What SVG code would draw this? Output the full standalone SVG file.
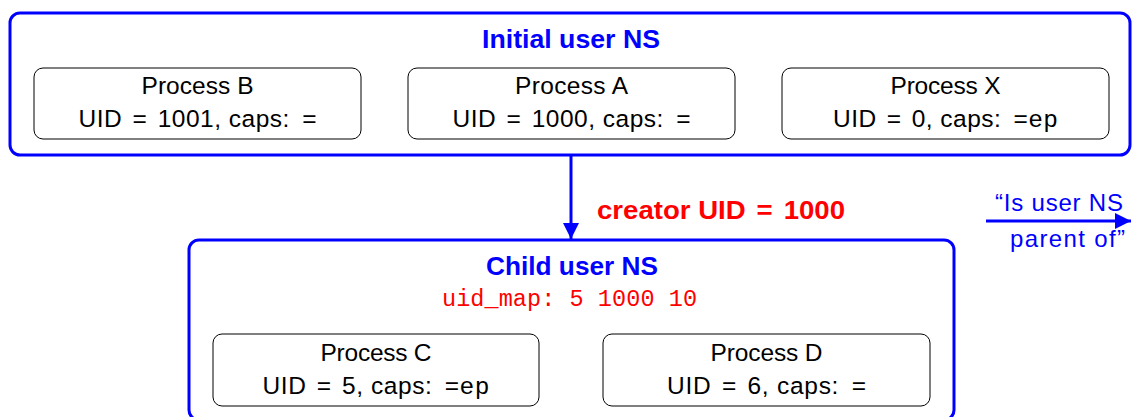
<svg xmlns="http://www.w3.org/2000/svg" width="1133" height="417" viewBox="0 0 1133 417">
<style>
.ns{fill:none;stroke:#0000ff;stroke-width:3}
.proc{fill:#ffffff;stroke:#000000;stroke-width:1}
.t{font-family:"Liberation Sans",Arial,sans-serif;font-size:24.5px;fill:#000000;text-anchor:middle}
.mono{font-family:"Liberation Mono","Courier New",monospace}
.title{font-family:"Liberation Sans",Arial,sans-serif;font-size:25px;font-weight:bold;fill:#0000ff;text-anchor:middle}
.red{font-family:"Liberation Sans",Arial,sans-serif;font-size:25px;font-weight:bold;fill:#ff0000}
.map{font-family:"Liberation Mono","Courier New",monospace;font-size:23.5px;fill:#ff0000}
.blue{font-family:"Liberation Sans",Arial,sans-serif;font-size:24px;fill:#0000ff}
.conn{stroke:#0000ff;stroke-width:3;fill:none}
</style>
<defs>
<marker id="arr" viewBox="0 0 10 10" refX="10" refY="5" markerWidth="5.5" markerHeight="5.5" markerUnits="strokeWidth" orient="auto">
<path d="M0,0 L10,5 L0,10 Z" fill="#0000ff"/>
</marker>
</defs>

<g id="initial-ns">
<rect class="ns" x="10" y="13" width="1120" height="142" rx="10"/>
<text class="title" x="571" y="48" textLength="178" lengthAdjust="spacingAndGlyphs">Initial user NS</text>
</g>

<g id="process-b">
<rect class="proc" x="34" y="68" width="327" height="71" rx="9"/>
<text class="t" x="197.5" y="94" textLength="112">Process B</text>
<text class="t" x="197.5" y="127" textLength="238">UID <tspan dx="3">=</tspan><tspan dx="3"> 1001, caps:</tspan><tspan dx="5"> =</tspan></text>
</g>

<g id="process-a">
<rect class="proc" x="408" y="68" width="327" height="71" rx="9"/>
<text class="t" x="571.5" y="94" textLength="113">Process A</text>
<text class="t" x="571.5" y="127" textLength="238">UID <tspan dx="3">=</tspan><tspan dx="3"> 1000, caps:</tspan><tspan dx="5"> =</tspan></text>
</g>

<g id="process-x">
<rect class="proc" x="782" y="68" width="327" height="71" rx="9"/>
<text class="t" x="945.5" y="94" textLength="110">Process X</text>
<text class="t" x="945.5" y="127" textLength="225">UID <tspan dx="3">=</tspan><tspan dx="3"> 0, caps:</tspan><tspan dx="5"> =</tspan><tspan class="mono">ep</tspan></text>
</g>

<g id="child-ns">
<rect class="ns" x="189" y="240" width="765" height="180" rx="10"/>
<text class="title" x="572" y="275" textLength="172" lengthAdjust="spacingAndGlyphs">Child user NS</text>
<text class="map" x="442" y="306" textLength="255">uid_map: 5 1000 10</text>
</g>

<g id="process-c">
<rect class="proc" x="213" y="334" width="326" height="72" rx="9"/>
<text class="t" x="376" y="361" textLength="111">Process C</text>
<text class="t" x="376" y="394" textLength="227">UID <tspan dx="3">=</tspan><tspan dx="3"> 5, caps:</tspan><tspan dx="5"> =</tspan><tspan class="mono">ep</tspan></text>
</g>

<g id="process-d">
<rect class="proc" x="603" y="334" width="327" height="72" rx="9"/>
<text class="t" x="766.5" y="361" textLength="112">Process D</text>
<text class="t" x="766.5" y="394" textLength="199">UID <tspan dx="3">=</tspan><tspan dx="3"> 6, caps:</tspan><tspan dx="5"> =</tspan></text>
</g>

<g id="connectors">
<line class="conn" x1="571" y1="156" x2="571" y2="239" marker-end="url(#arr)"/>
<text class="red" x="597" y="219" textLength="248" lengthAdjust="spacingAndGlyphs">creator UID <tspan dx="3">=</tspan><tspan dx="3"> 1000</tspan></text>
</g>

<g id="legend">
<line class="conn" x1="986" y1="221" x2="1131" y2="221" marker-end="url(#arr)"/>
<text class="blue" x="995" y="211" textLength="128">“Is user NS</text>
<text class="blue" x="1010" y="247" textLength="115">parent of”</text>
</g>
</svg>
